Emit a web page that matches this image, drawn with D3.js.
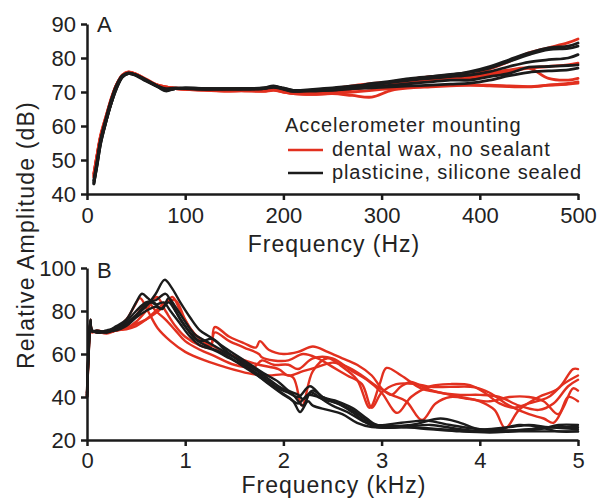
<!DOCTYPE html>
<html>
<head>
<meta charset="utf-8">
<script src="https://cdn.jsdelivr.net/npm/d3@7"></script>
<style>
  html, body { margin: 0; padding: 0; background: #fff; }
  svg { display: block; font-family: "Liberation Sans", Arial, Helvetica, sans-serif; }
</style>
</head>
<body>
<svg id="chart" width="597" height="498"></svg>
<script>
// ---- Panel A: low-frequency response (Hz) ----
const freqA = [7,10,14,20,25,30,36,42,50,60,70,80,90,100,120,140,160,180,190,200,210,230,250,270,290,310,330,350,370,390,410,430,450,470,490,500];

const waxA = [
  [46,51,57,63,68,72,74.8,75.8,75.2,73.5,72.2,71.5,71.2,71,71,70.8,71,70.9,71.3,70.8,70.2,70.4,71,71.8,72.5,73,73.8,74.5,74.8,75,76.8,79,81.5,83,84.5,85.6],
  [45,50,57,63.5,68,72,75,75.8,75.2,73.8,72.3,71.5,71,71,70.7,70.5,70.8,70.7,71,70.5,70,69.8,70.2,71,72,72.5,73,73.5,73.8,74,75,76,77,77.5,78,78.5],
  [45.5,51,57.5,63.5,68.5,72.2,75,75.9,75.3,73.7,72.2,71.5,71,70.8,70.6,70.4,70.5,70.6,71,70.3,69.8,69.5,70,70.8,71.5,72.3,73,73.5,74,74.5,75.5,76.5,77,74,73.5,74],
  [46,51,57,63,68,72,74.7,75.7,75.2,73.6,72,71.3,71,70.8,70.6,70.3,70.4,70.3,70.6,70,69.5,69.3,69.6,70,70.5,71,71.5,71.8,72,72,71.8,71.6,71.5,72,72.5,73],
  [45,50.5,56.5,62.5,67.5,71.5,74.6,75.6,75,73.5,72,71.3,71,70.8,70.5,70.3,70.3,70.2,70.5,70,69.5,69.3,69.5,69,68.5,70.5,71.2,71.5,71.8,72,72,71.8,71.6,72,72.3,72.6]
];

const plasticineA = [
  [43,48,55,62,67,71.5,74.5,75.6,75,73.5,72,70.3,71,71,70.8,71,70.9,71.2,71.8,71,70.2,70.6,71,71.5,72.5,73.2,74,74.5,75,76,77.5,79.5,81.5,83,83.5,84.4],
  [44,49,56,63,68,72,74.8,75.5,74.8,73.2,71.8,70.6,71,71.2,71,70.8,71,71,71.6,71.2,70.5,70.8,71.2,71.8,72.2,73,73.8,74.5,75.2,75.8,77,79,81,82.5,82.8,83.5],
  [43.5,48,55,62,67.5,71.5,74.5,75.4,75,73.4,72,71,71.2,71,71,70.9,70.8,71,71.5,71,70.4,70.5,71,71.5,72,72.8,73.5,74,74.5,75,76,77.5,78.8,79.5,80,81],
  [44,49,56,62.5,67,71,74.5,75.5,75,73.5,72,70.8,71,71,70.8,70.9,71,71,71.4,70.8,70.2,70.5,70.5,71,71.5,72,72.5,73,73.5,73.5,74.5,75.5,77.3,77.5,77.8,78],
  [43,48.5,55.5,62,67,71,74.3,75.4,75,73.6,72,70.8,71,71.2,71,71,71,71.2,71.5,71,70.5,70.3,70.6,71,71.2,71.5,71.8,72,72.3,72.6,73.5,74.8,75.8,76.2,76.5,77]
];

const ticksXA = [0,100,200,300,400,500];
const ticksYA = [40,50,60,70,80,90];

// ---- Panel B: broadband response (kHz), [frequency, dB] pairs ----
const waxB = [
  [[0,40],[0.02,66],[0.035,75],[0.05,70.5],[0.1,70.5],[0.2,70],[0.3,72],[0.4,76],[0.48,82],[0.54,86],[0.62,80],[0.72,72],[0.85,66],[1.0,61],[1.2,57],[1.4,54],[1.65,51],[1.85,50],[2.0,50.5],[2.1,49],[2.19,36],[2.3,52],[2.45,58],[2.6,54],[2.75,48],[2.88,35],[2.98,46],[3.05,53.5],[3.2,50],[3.4,44],[3.6,42],[3.8,40],[4.0,38],[4.15,34],[4.26,25.5],[4.4,34],[4.6,40],[4.8,44],[4.95,53],[5,53]],
  [[0,40],[0.02,64],[0.035,76],[0.05,71],[0.1,70],[0.2,70.5],[0.3,71],[0.4,72],[0.5,75],[0.6,80],[0.71,86.5],[0.8,80],[0.9,73],[1.0,68],[1.15,64],[1.26,63],[1.3,72.5],[1.45,68],[1.6,65],[1.72,63],[1.76,66],[1.85,62],[2.0,60],[2.15,61],[2.3,63.5],[2.45,61],[2.6,58],[2.75,55],[2.9,50],[3.0,44],[3.1,41],[3.2,45],[3.3,47],[3.45,44],[3.6,42],[3.8,41],[4.0,41],[4.2,40],[4.4,36],[4.6,34],[4.75,37],[4.9,45],[5,48]],
  [[0,42],[0.02,66],[0.035,75],[0.05,70.5],[0.1,70.5],[0.2,70],[0.3,71],[0.4,72],[0.5,74],[0.6,76],[0.7,79],[0.8,83],[0.87,86.5],[0.95,80],[1.05,72],[1.15,67],[1.26,64],[1.3,70],[1.45,66],[1.6,63],[1.75,60],[1.78,58.5],[1.9,57],[2.05,57],[2.2,60],[2.35,58],[2.5,54],[2.65,50],[2.8,46],[2.9,35],[3.0,42],[3.15,46],[3.35,46],[3.5,44.7],[3.7,44.7],[3.95,44.5],[4.1,42],[4.3,36],[4.5,32],[4.65,30],[4.75,28],[4.85,35],[4.95,44],[5,43]],
  [[0,40],[0.02,65],[0.035,75],[0.05,70],[0.1,71],[0.2,70],[0.3,71],[0.4,73],[0.5,78],[0.62,84],[0.7,80],[0.8,76],[0.9,71],[1.0,66],[1.15,62],[1.3,59],[1.5,55],[1.7,54],[1.78,57],[1.9,55],[2.05,55],[2.15,53],[2.3,58],[2.5,58],[2.7,52],[2.85,48],[3.0,42],[3.16,32.6],[3.3,40],[3.5,45],[3.7,46],[3.9,45.5],[4.05,42],[4.2,37],[4.35,35],[4.5,37],[4.7,40],[4.85,46],[5,50]],
  [[0,41],[0.02,63],[0.035,74],[0.05,70.5],[0.1,70.5],[0.2,69.5],[0.3,71],[0.4,71.5],[0.5,73],[0.6,76],[0.7,80],[0.8,84],[0.9,85],[1.0,76],[1.1,69],[1.2,66],[1.35,62],[1.55,58],[1.75,55],[1.95,53],[2.05,50],[2.2,52],[2.35,54],[2.5,56],[2.65,54],[2.8,50],[2.95,45],[3.1,41],[3.25,38],[3.41,29.3],[3.55,37],[3.7,40],[3.9,39],[4.1,38],[4.3,40],[4.5,40],[4.65,38],[4.8,32],[4.9,40],[5,38]]
];

const plasticineB = [
  [[0,40],[0.02,66],[0.035,75],[0.05,71],[0.1,70.5],[0.2,70],[0.3,72],[0.4,74],[0.5,78],[0.6,82],[0.7,88],[0.79,94.5],[0.86,91],[0.95,84],[1.05,77],[1.15,71],[1.25,68],[1.4,63],[1.6,57],[1.8,51],[1.95,47],[2.05,43],[2.15,41],[2.2,39],[2.3,43],[2.4,40],[2.55,37],[2.7,34],[2.85,29],[2.95,27],[3.2,28],[3.45,29],[3.7,27],[4.0,25],[4.3,24.5],[4.6,25],[4.8,27],[5,27]],
  [[0,42],[0.02,68],[0.035,76],[0.05,71],[0.1,70],[0.2,70.5],[0.3,73],[0.4,76],[0.5,84],[0.56,88],[0.62,86],[0.7,83],[0.78,84],[0.85,80],[0.95,74],[1.05,68],[1.15,64],[1.28,62],[1.45,58],[1.65,53],[1.85,46],[2.0,41],[2.1,38],[2.17,33],[2.25,38],[2.3,36],[2.45,34],[2.6,32],[2.75,28],[2.9,26],[3.2,26],[3.5,25],[3.8,24],[4.1,23.5],[4.4,24],[4.7,24],[5,24]],
  [[0,41],[0.02,64],[0.035,74],[0.05,70.5],[0.1,71],[0.2,70],[0.3,72],[0.4,75],[0.5,80],[0.6,84],[0.7,85],[0.8,88],[0.88,82],[0.95,76],[1.05,70],[1.15,66],[1.28,67],[1.4,62],[1.6,55],[1.8,49],[1.95,44],[2.05,42],[2.15,40],[2.27,45],[2.4,40],[2.55,38],[2.7,35],[2.85,30],[2.95,27],[3.3,27],[3.6,30],[3.8,28],[4.0,25],[4.3,26],[4.5,27],[4.7,26],[5,25]],
  [[0,40],[0.02,63],[0.035,75],[0.05,71],[0.1,70],[0.2,71],[0.3,72],[0.4,74],[0.5,78],[0.6,83],[0.68,84],[0.75,81],[0.83,84],[0.9,80],[1.0,73],[1.1,67],[1.25,63],[1.4,60],[1.6,54],[1.8,48],[1.95,43],[2.05,40],[2.15,37],[2.25,41],[2.35,40],[2.5,36],[2.65,33],[2.8,29],[2.95,26],[3.2,26],[3.5,27],[3.8,25],[4.1,24],[4.4,27],[4.6,26],[4.8,24],[5,24]],
  [[0,40],[0.02,66],[0.035,76],[0.05,70.5],[0.1,70.5],[0.2,70.5],[0.3,71],[0.4,73],[0.5,77],[0.6,80],[0.7,82],[0.77,81],[0.83,86],[0.9,82],[1.0,75],[1.1,69],[1.25,65],[1.4,61],[1.6,56],[1.8,50],[1.95,45],[2.1,41],[2.2,36],[2.28,42],[2.4,39],[2.55,37],[2.7,33],[2.85,28],[3.0,26],[3.3,26],[3.6,25],[3.9,24],[4.2,24],[4.5,25],[4.8,26],[5,26]]
];

const ticksXB = [0,1,2,3,4,5];
const ticksYB = [20,40,60,80,100];

const legendTitle = "Accelerometer mounting";
const seriesNames = ["dental wax, no sealant", "plasticine, silicone sealed"];
const RED = "#e2301f";
const BLACK = "#1b1b1b";
const TEXT = "#222";

const svg = d3.select("#chart");

function panel(opts) {
  const g = svg.append("g");
  const x = d3.scaleLinear().domain(opts.xDomain).range([87, 578]);
  const y = d3.scaleLinear().domain(opts.yDomain).range(opts.yRange);

  const line = d3.line()
    .x(d => x(d[0])).y(d => y(d[1]))
    .curve(d3.curveCatmullRom.alpha(0.5));

  [[opts.wax, RED], [opts.plasticine, BLACK]].forEach(([set, color]) => {
    g.append("g").selectAll("path").data(set).join("path")
      .attr("d", line)
      .attr("fill", "none")
      .attr("stroke", color)
      .attr("stroke-width", opts.lineWidth)
      .attr("stroke-linejoin", "round")
      .attr("stroke-linecap", "round");
  });

  const xAxis = g.append("g")
    .attr("transform", `translate(0,${opts.yRange[0]})`)
    .call(d3.axisBottom(x).tickValues(opts.xTicks).tickSize(6).tickSizeOuter(0).tickPadding(opts.xPad).tickFormat(d3.format("d")));
  const yAxis = g.append("g")
    .attr("transform", "translate(87,0)")
    .call(d3.axisLeft(y).tickValues(opts.yTicks).tickSize(6).tickSizeOuter(0).tickPadding(5).tickFormat(d3.format("d")));

  [xAxis, yAxis].forEach(a => {
    a.select(".domain").attr("stroke", BLACK).attr("stroke-width", 2.5);
    a.selectAll(".tick line").attr("stroke", BLACK).attr("stroke-width", 2.5);
    a.selectAll(".tick text").attr("fill", TEXT).style("font-size", "22px");
  });

  g.append("text")
    .attr("x", 334).attr("y", opts.xTitleY)
    .attr("text-anchor", "middle")
    .attr("fill", TEXT)
    .style("font-size", "23px")
    .style("letter-spacing", "1px")
    .text(opts.xTitle);

  g.append("text")
    .attr("x", 97).attr("y", opts.letterY)
    .attr("fill", TEXT)
    .style("font-size", "22px")
    .text(opts.letter);
  return { x, y };
}

panel({
  xDomain: [0, 500], yDomain: [40, 90], yRange: [194, 24],
  wax: waxA.map(s => s.map((v, i) => [freqA[i], v])),
  plasticine: plasticineA.map(s => s.map((v, i) => [freqA[i], v])),
  xTicks: ticksXA, yTicks: ticksYA, xPad: 7, lineWidth: 2.8,
  xTitle: "Frequency (Hz)", xTitleY: 252,
  letter: "A", letterY: 32
});

panel({
  xDomain: [0, 5], yDomain: [20, 100], yRange: [440, 268],
  wax: waxB, plasticine: plasticineB,
  xTicks: ticksXB, yTicks: ticksYB, xPad: 6, lineWidth: 2.4,
  xTitle: "Frequency (kHz)", xTitleY: 493,
  letter: "B", letterY: 278
});

// shared y title
svg.append("text")
  .attr("transform", "translate(34,235) rotate(-90)")
  .attr("text-anchor", "middle")
  .attr("fill", TEXT)
  .style("font-size", "23px")
  .style("letter-spacing", "1.2px")
  .text("Relative Amplitude (dB)");

// legend
const legend = svg.append("g");
legend.append("text")
  .attr("x", 285).attr("y", 132)
  .attr("fill", TEXT).style("font-size", "20px").style("letter-spacing", "0.9px")
  .text(legendTitle);
[RED, BLACK].forEach((c, i) => {
  const yy = 150 + i * 23;
  legend.append("line")
    .attr("x1", 288).attr("x2", 323).attr("y1", yy).attr("y2", yy)
    .attr("stroke", c).attr("stroke-width", 2.6);
  legend.append("text")
    .attr("x", 332).attr("y", yy + 6)
    .attr("fill", TEXT).style("font-size", "20px").style("letter-spacing", "0.9px")
    .text(seriesNames[i]);
});
</script>
</body>
</html>
